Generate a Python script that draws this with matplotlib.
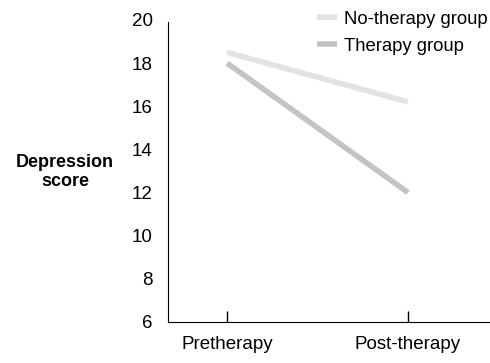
import matplotlib.pyplot as plt

plt.rcParams['font.family'] = ['Liberation Sans', 'DejaVu Sans']

phases = ['Pretherapy', 'Post-therapy']
no_therapy = [18.5, 16.2]
therapy = [18.0, 12.0]

fig = plt.figure(figsize=(4.9, 3.63), dpi=100)
ax = fig.add_axes([0.343, 0.113, 0.657, 0.832])

x = list(range(len(phases)))
ax.plot(x, no_therapy, color='#e3e3e3', lw=4, solid_capstyle='butt', label='No-therapy group')
ax.plot(x, therapy, color='#c4c4c4', lw=4, solid_capstyle='butt', label='Therapy group')

ax.set_xlim(-0.326, 1.453)
ax.set_ylim(6, 20)
ax.set_yticks(range(6, 21, 2))
ax.set_xticks(x)
ax.set_xticklabels(phases)
ax.tick_params(axis='y', length=0, pad=11, labelsize=13.5)
ax.tick_params(axis='x', direction='in', length=8, width=1, pad=10, labelsize=13.5)

for s in ['top', 'right']:
    ax.spines[s].set_visible(False)
ax.spines['left'].set_bounds(6, 19.9)

ax.set_ylabel('Depression\nscore', rotation=0, fontweight='bold', fontsize=13,
              ha='center', va='center', labelpad=0, linespacing=1.1)
ax.yaxis.set_label_coords(-0.32, 0.497)

ax.legend(loc='upper left', bbox_to_anchor=(0.44, 1.055), frameon=False, fontsize=13.3,
          handlelength=1.1, handletextpad=0.35, labelspacing=0.55, borderaxespad=0)

fig.savefig('out.png', dpi=100)
